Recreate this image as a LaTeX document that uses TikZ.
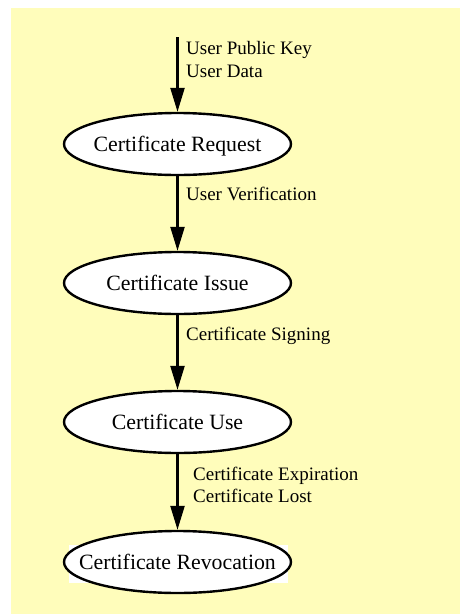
\documentclass[tikz,border=0pt]{standalone}
\usepackage{fontspec}
\setmainfont{Liberation Serif}
\usetikzlibrary{shapes.geometric,arrows.meta}
\definecolor{bgyellow}{RGB}{255,253,187}
\newcommand{\stagetext}[1]{\raisebox{-7.5pt}[0pt][0pt]{\makebox[0pt]{#1}}}
\tikzset{
  stage/.style={ellipse, draw=black, fill=white, line width=2.4pt, minimum width=227pt, minimum height=62pt, inner sep=0pt, font=\fontsize{21.8}{24}\selectfont},
  flow/.style={line width=2.4pt, -{Triangle[length=24pt,width=14pt]}},
  lbl/.style={anchor=base west, inner sep=0pt, font=\fontsize{19}{23}\selectfont, align=left}
}
\begin{document}
\begin{tikzpicture}[x=1pt,y=-1pt]
\useasboundingbox (0,0) rectangle (460,614);
\fill[bgyellow] (11,8) rectangle (460,614);
\fill[white] (69,545) rectangle (288,583);
\node[stage] (req) at (177.5,144) {\stagetext{Certificate Request}};
\node[stage] (iss) at (177.5,283) {\stagetext{Certificate Issue}};
\node[stage] (use) at (177.5,422) {\stagetext{Certificate Use}};
\node[stage] (rev) at (177.5,562) {\stagetext{Certificate Revocation}};
\coordinate (start) at (177.5,37);
\draw[flow] (start) -- (req);
\draw[flow] (req) -- (iss);
\draw[flow] (iss) -- (use);
\draw[flow] (use) -- (rev);
\node[lbl] (l1) at (186,54) {User Public Key};
\node[lbl] (l2) at (186,77) {User Data};
\node[lbl] (l3) at (186,200.7) {User Verification};
\node[lbl] (l4) at (186,340.7) {Certificate Signing};
\node[lbl] (l5) at (193,480) {Certificate Expiration};
\node[lbl] (l6) at (193,502.5) {Certificate Lost};
\end{tikzpicture}
\end{document}
